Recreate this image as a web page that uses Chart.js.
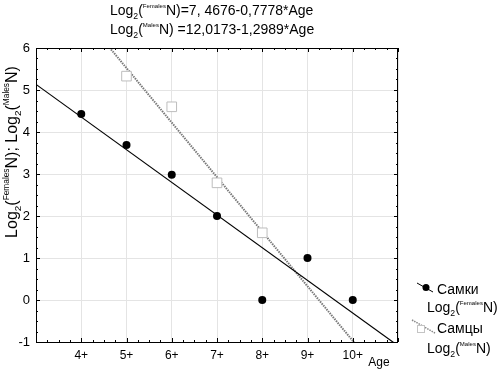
<!DOCTYPE html>
<html>
<head>
<meta charset="utf-8">
<script src="https://cdn.jsdelivr.net/npm/chart.js@4"></script>
<style>
html,body{margin:0;padding:0;background:#fff;}
canvas{display:block;}
</style>
</head>
<body>
<canvas id="c" width="500" height="371"></canvas>
<script>
// ---- data ----
const ages = [4, 5, 6, 7, 8, 9, 10];
const ageTickLabels = ['4+', '5+', '6+', '7+', '8+', '9+', '10+'];
const femalesLog2N = [4.43, 3.69, 2.98, 2.0, 0, 1.0, 0];
const malesAges = [5, 6, 7, 8];
const malesLog2N = [5.33, 4.6, 2.79, 1.6];
// regression equations as printed in the chart: [intercept, slope]
const femalesFit = [7.4676, -0.7778];
const malesFit = [12.0173, -1.2989];
const xRange = [3, 11];
const yRange = [-1, 6];

const FONT = '"Liberation Sans", Arial, sans-serif';

function fitLine(fit) {
  return xRange.map(x => ({x: x, y: fit[0] + fit[1] * x}));
}

// draw text with sub/superscripts; parts: [text, kind]
function partStyle(k, size, supF) {
  if (k === 'sub') return {s: size * 0.62, dy: size * 0.25};
  if (k === 'sup') return {s: size * (supF || 0.43), dy: -size * 0.5};
  return {s: size, dy: 0};
}
function richWidth(ctx, parts, size, supF) {
  let w = 0;
  for (const [t, k] of parts) {
    const p = partStyle(k, size, supF);
    ctx.font = p.s + 'px ' + FONT;
    w += ctx.measureText(t).width;
  }
  return w;
}
function drawRich(ctx, x, y, parts, size, supF) {
  ctx.textBaseline = 'alphabetic';
  ctx.textAlign = 'left';
  for (const [t, k] of parts) {
    const p = partStyle(k, size, supF);
    ctx.font = p.s + 'px ' + FONT;
    ctx.fillText(t, x, y + p.dy);
    x += ctx.measureText(t).width;
  }
}

const eqFemales = [['Log'], ['2', 'sub'], ['('], ['Females', 'sup'], ['N)=7, 4676-0,7778*Age']];
const eqMales = [['Log'], ['2', 'sub'], ['('], ['Males', 'sup'], ['N) =12,0173-1,2989*Age']];
const yTitle = [['Log'], ['2', 'sub'], ['('], ['Females', 'sup'], ['N); Log'], ['2', 'sub'], ['('], ['Males', 'sup'], ['N)']];
const legFemales = [['Log'], ['2', 'sub'], ['('], ['Females', 'sup'], ['N)']];
const legMales = [['Log'], ['2', 'sub'], ['('], ['Males', 'sup'], ['N)']];

const decor = {
  id: 'decor',
  afterDraw(chart) {
    const ctx = chart.ctx;
    const a = chart.chartArea;
    const xs = chart.scales.x, ys = chart.scales.y;
    ctx.save();
    // frame
    ctx.strokeStyle = '#000';
    ctx.lineWidth = 1;
    ctx.strokeRect(Math.round(a.left) + 0.5, Math.round(a.top) + 0.5, Math.round(a.right - a.left) - 1, Math.round(a.bottom - a.top));
    // inner tick marks
    ctx.beginPath();
    for (let v = xRange[0]; v <= xRange[1] + 1e-6; v += 0.25) {
      const px = Math.round(xs.getPixelForValue(v)) + 0.5;
      const len = Math.abs(v - Math.round(v)) < 1e-6 ? 4 : 2;
      ctx.moveTo(px, a.top); ctx.lineTo(px, a.top + len);
      ctx.moveTo(px, a.bottom); ctx.lineTo(px, a.bottom - len);
    }
    for (let v = yRange[0]; v <= yRange[1] + 1e-6; v += 0.25) {
      const py = Math.round(ys.getPixelForValue(v)) + 0.5;
      const len = Math.abs(v - Math.round(v)) < 1e-6 ? 4 : 2;
      ctx.moveTo(a.left, py); ctx.lineTo(a.left + len, py);
      ctx.moveTo(a.right, py); ctx.lineTo(a.right - len, py);
    }
    ctx.stroke();

    ctx.fillStyle = '#000';
    // title equations
    drawRich(ctx, 110, 15, eqFemales, 14);
    drawRich(ctx, 110, 34, eqMales, 14);
    // x axis title
    ctx.font = '12px ' + FONT;
    ctx.textAlign = 'center';
    ctx.textBaseline = 'middle';
    ctx.fillText('Age', 379, 363);
    // y axis title (rotated)
    ctx.save();
    ctx.translate(17, 152);
    ctx.rotate(-Math.PI / 2);
    const w = richWidth(ctx, yTitle, 16, 0.52);
    drawRich(ctx, -w / 2, 0, yTitle, 16, 0.52);
    ctx.restore();

    // legend
    ctx.strokeStyle = '#000';
    ctx.lineWidth = 1;
    ctx.beginPath(); ctx.moveTo(417, 283); ctx.lineTo(433, 292); ctx.stroke();
    ctx.beginPath(); ctx.arc(426, 287.5, 3.5, 0, Math.PI * 2); ctx.fill();
    ctx.font = '14px ' + FONT;
    ctx.textAlign = 'left';
    ctx.textBaseline = 'alphabetic';
    ctx.fillText('Самки', 437, 294);
    drawRich(ctx, 427, 312, legFemales, 14);

    ctx.strokeStyle = '#888';
    ctx.lineWidth = 1.5;
    ctx.setLineDash([1.5, 1]);
    ctx.beginPath(); ctx.moveTo(412, 320); ctx.lineTo(435, 333); ctx.stroke();
    ctx.setLineDash([]);
    ctx.fillStyle = '#fff';
    ctx.strokeStyle = '#c4c4c4';
    ctx.lineWidth = 1;
    ctx.fillRect(417, 325, 7, 7);
    ctx.strokeRect(417.5, 325.5, 7, 7);
    ctx.fillStyle = '#000';
    ctx.font = '14px ' + FONT;
    ctx.fillText('Самцы', 437, 333);
    drawRich(ctx, 427, 353, legMales, 14);
    ctx.restore();
  }
};

new Chart(document.getElementById('c'), {
  type: 'scatter',
  data: {
    datasets: [
      {
        label: 'Самцы fit',
        type: 'line',
        data: fitLine(malesFit),
        borderColor: '#7a7a7a',
        borderWidth: 2,
        borderDash: [1.5, 1],
        pointRadius: 0,
        fill: false,
        order: 4
      },
      {
        label: 'Самки fit',
        type: 'line',
        data: fitLine(femalesFit),
        borderColor: '#000',
        borderWidth: 1.2,
        pointRadius: 0,
        fill: false,
        order: 3
      },
      {
        label: 'Самцы',
        data: malesAges.map((x, i) => ({x: x, y: malesLog2N[i]})),
        pointStyle: 'rect',
        pointRadius: 6.8,
        backgroundColor: '#fff',
        borderColor: '#bdbdbd',
        borderWidth: 1,
        order: 2
      },
      {
        label: 'Самки',
        data: ages.map((x, i) => ({x: x, y: femalesLog2N[i]})),
        pointStyle: 'circle',
        pointRadius: 4,
        backgroundColor: '#000',
        borderColor: '#000',
        borderWidth: 0,
        order: 1
      }
    ]
  },
  options: {
    responsive: false,
    animation: false,
    events: [],
    layout: {padding: {top: 48, right: 102, left: 0, bottom: 0}},
    plugins: {legend: {display: false}, tooltip: {enabled: false}, title: {display: false}},
    scales: {
      x: {
        type: 'linear',
        min: xRange[0], max: xRange[1],
        afterFit(s) { s.height = 29; },
        afterBuildTicks(s) {
          const t = [];
          for (let v = xRange[0]; v <= xRange[1]; v++) t.push({value: v});
          s.ticks = t;
        },
        ticks: {
          padding: 6,
          color: '#000',
          font: {family: FONT, size: 12},
          maxRotation: 0,
          autoSkip: false,
          callback(v) { const i = ages.indexOf(v); return i >= 0 ? ageTickLabels[i] : ''; }
        },
        grid: {color: '#e4e4e4', drawTicks: false, lineWidth: 1},
        border: {display: false}
      },
      y: {
        type: 'linear',
        min: yRange[0], max: yRange[1],
        afterFit(s) { s.width = 36; },
        ticks: {stepSize: 1, padding: 6, color: '#000', font: {family: FONT, size: 13}},
        grid: {color: '#e4e4e4', drawTicks: false, lineWidth: 1},
        border: {display: false}
      }
    }
  },
  plugins: [decor]
});
</script>
</body>
</html>
